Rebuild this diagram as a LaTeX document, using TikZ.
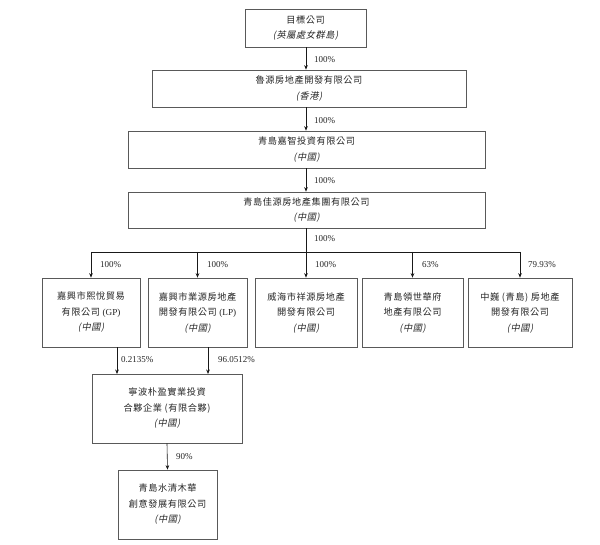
\documentclass[tikz,border=0pt]{standalone}
\usepackage{fontspec}
\setmainfont{Liberation Serif}
\newfontfamily\cjk{Noto Sans CJK TC}[LetterSpace=6]
\newfontfamily\cjkit{Noto Sans CJK TC}[FakeSlant=0.2,LetterSpace=6]
\usetikzlibrary{arrows.meta}
\begin{document}
\begin{tikzpicture}[x=1pt,y=-1pt,
  box/.style={draw=black!65,line width=0.7pt,inner sep=0pt,align=center,
    font=\fontsize{9.2}{15.5}\cjk,text=black!85},
  arr/.style={line width=0.6pt,draw=black!90,-{Stealth[length=4.5pt,width=3.6pt]}},
  lnk/.style={line width=0.6pt,draw=black!90},
  pct/.style={font=\fontsize{9}{10}\selectfont,anchor=west,inner sep=0pt,text=black!85}]
\useasboundingbox (0,0) rectangle (600,545);

\node[box,minimum width=121,minimum height=38] (b1) at (305.5,28) {目標公司\\{\cjkit (英屬處女群島)}};
\node[box,minimum width=314,minimum height=37] (b2) at (309,88.5) {魯源房地產開發有限公司\\{\cjkit (香港)}};
\node[box,minimum width=357,minimum height=37] (b3) at (306.5,149.5) {青島嘉智投資有限公司\\{\cjkit (中國)}};
\node[box,minimum width=357,minimum height=36] (b4) at (306.5,210) {青島佳源房地產集團有限公司\\{\cjkit (中國)}};

\node[box,minimum width=98,minimum height=69] (A) at (91,312.5) {嘉興市熙悅貿易\\有限公司 {\rmfamily (GP)}\\{\cjkit (中國)}};
\node[box,minimum width=99,minimum height=69] (B) at (197.5,312.5) {嘉興市業源房地產\\開發有限公司 {\rmfamily (LP)}\\{\cjkit (中國)}};
\node[box,minimum width=102,minimum height=69] (C) at (306,312.5) {威海市祥源房地產\\開發有限公司\\{\cjkit (中國)}};
\node[box,minimum width=101,minimum height=69] (D) at (412.5,312.5) {青島領世華府\\地產有限公司\\{\cjkit (中國)}};
\node[box,minimum width=104,minimum height=69] (E) at (520,312.5) {中巍 (青島) 房地產\\開發有限公司\\{\cjkit (中國)}};

\node[box,minimum width=150,minimum height=69] (F) at (167,408.5) {寧波朴盈實業投資\\合夥企業 (有限合夥)\\{\cjkit (中國)}};
\node[box,minimum width=99,minimum height=69] (G) at (167.5,504.5) {青島水清木華\\創意發展有限公司\\{\cjkit (中國)}};

% vertical chain
\coordinate (vx) at (306,0);
\draw[arr] (b1.south -| vx) -- (b2.north -| vx);
\draw[arr] (b2.south -| vx) -- (b3.north -| vx);
\draw[arr] (b3.south -| vx) -- (b4.north -| vx);
\node[pct] (p1) at (314,60) {100\%};
\node[pct] (p2) at (314,121) {100\%};
\node[pct] (p3) at (314,181) {100\%};

% bus
\coordinate (bus) at (306,252);
\draw[lnk] (b4.south -| vx) -- (bus);
\node[pct] (p4) at (314,239) {100\%};
\draw[lnk] (A.north |- bus) -- (E.north |- bus);
\draw[arr] (A.north |- bus) -- (A.north);
\draw[arr] (B.north |- bus) -- (B.north);
\draw[arr] (C.north |- bus) -- (C.north);
\draw[arr] (D.north |- bus) -- (D.north);
\draw[arr] (E.north |- bus) -- (E.north);
\node[pct] (pa) at (100,265) {100\%};
\node[pct] (pb) at (207,265) {100\%};
\node[pct] (pc) at (315,265) {100\%};
\node[pct] (pd) at (422,265) {63\%};
\node[pct] (pe) at (528,265) {79.93\%};

% lower
\coordinate (fa) at (117,374);
\coordinate (fb) at (208,374);
\draw[arr] (A.south -| fa) -- (fa);
\draw[arr] (B.south -| fb) -- (fb);
\node[pct] (pf) at (121,360) {0.2135\%};
\node[pct] (pg) at (218,360) {96.0512\%};
\draw[arr] (F.south) -- (G.north);
\node[pct] (ph) at (176,457) {90\%};
\end{tikzpicture}
\end{document}
